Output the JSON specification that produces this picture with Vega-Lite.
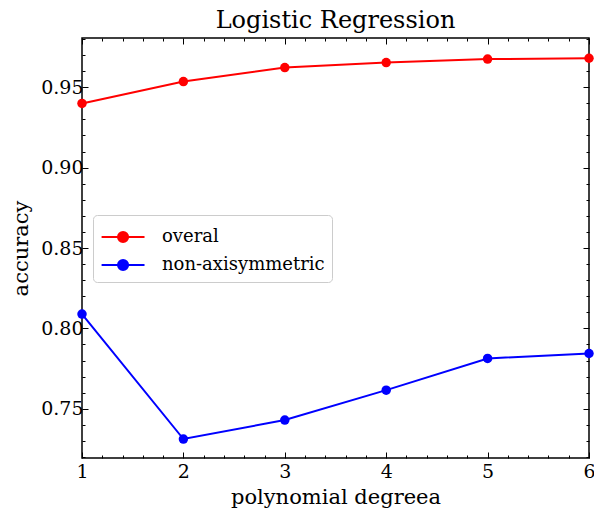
{
  "$schema": "https://vega.github.io/schema/vega-lite/v6.json",
  "width": 507,
  "height": 420,
  "autosize": {"type": "none"},
  "padding": {"left": 82, "top": 38, "right": 5, "bottom": 54},
  "background": "white",
  "title": {"text": "Logistic Regression", "font": "DejaVu Serif", "fontSize": 24, "fontWeight": "normal", "color": "black", "offset": -3},
  "config": {
    "view": {"stroke": "black", "strokeWidth": 1.5},
    "font": "DejaVu Serif"
  },
  "data": {
    "values": [
      {"degree": 1, "accuracy": 0.9399, "series": "overal"},
      {"degree": 2, "accuracy": 0.9535, "series": "overal"},
      {"degree": 3, "accuracy": 0.9622, "series": "overal"},
      {"degree": 4, "accuracy": 0.9653, "series": "overal"},
      {"degree": 5, "accuracy": 0.9675, "series": "overal"},
      {"degree": 6, "accuracy": 0.9680, "series": "overal"},
      {"degree": 1, "accuracy": 0.8089, "series": "non-axisymmetric"},
      {"degree": 2, "accuracy": 0.7312, "series": "non-axisymmetric"},
      {"degree": 3, "accuracy": 0.7430, "series": "non-axisymmetric"},
      {"degree": 4, "accuracy": 0.7616, "series": "non-axisymmetric"},
      {"degree": 5, "accuracy": 0.7813, "series": "non-axisymmetric"},
      {"degree": 6, "accuracy": 0.7844, "series": "non-axisymmetric"}
    ]
  },
  "layer": [
    {
      "mark": {"type": "line", "strokeWidth": 2, "point": {"size": 90, "filled": true, "opacity": 1}},
      "encoding": {
        "x": {
          "field": "degree", "type": "quantitative",
          "scale": {"domain": [1, 6], "nice": false, "zero": false},
          "axis": {
            "title": "polynomial degreea", "titleFont": "DejaVu Serif", "titleFontSize": 21, "titleFontWeight": "normal", "titleColor": "black", "titlePadding": 2,
            "values": [1,1.2,1.4,1.6,1.8,2,2.2,2.4,2.6,2.8,3,3.2,3.4,3.6,3.8,4,4.2,4.4,4.6,4.8,5,5.2,5.4,5.6,5.8,6],
            "labelExpr": "abs(datum.value - round(datum.value)) < 1e-6 ? format(datum.value, 'd') : ''",
            "labelFont": "DejaVu Serif", "labelFontSize": 19, "labelColor": "black", "labelPadding": 10, "labelFlush": false,
            "tickSize": {"condition": {"test": "abs(datum.value - round(datum.value)) < 1e-6", "value": -6}, "value": -3},
            "tickColor": "black", "tickWidth": 1, "domain": false, "grid": false, "labelOverlap": false
          }
        },
        "y": {
          "field": "accuracy", "type": "quantitative",
          "scale": {"domain": [0.7194, 0.9806], "nice": false, "zero": false},
          "axis": {
            "title": "accuracy", "titleFont": "DejaVu Serif", "titleFontSize": 21, "titleFontWeight": "normal", "titleColor": "black", "titlePadding": 9,
            "values": [0.72,0.73,0.74,0.75,0.76,0.77,0.78,0.79,0.8,0.81,0.82,0.83,0.84,0.85,0.86,0.87,0.88,0.89,0.9,0.91,0.92,0.93,0.94,0.95,0.96,0.97,0.98],
            "labelExpr": "abs(datum.value*20 - round(datum.value*20)) < 1e-6 ? format(datum.value, '.2f') : ''",
            "labelFont": "DejaVu Serif", "labelFontSize": 19, "labelColor": "black", "labelPadding": 5, "labelFlush": false,
            "tickSize": {"condition": {"test": "abs(datum.value*20 - round(datum.value*20)) < 1e-6", "value": -6}, "value": -3},
            "tickColor": "black", "tickWidth": 1, "domain": false, "grid": false, "labelOverlap": false
          }
        },
        "color": {
          "field": "series", "type": "nominal",
          "scale": {"domain": ["overal", "non-axisymmetric"], "range": ["#ff0000", "#0000ff"]},
          "legend": {
            "title": null, "orient": "none", "legendX": 11, "legendY": 177,
            "symbolType": "M-1,0H2.2M0.23,0A0.37,0.37 0 1,1 0.97,0A0.37,0.37 0 1,1 0.23,0",
            "symbolSize": 720, "symbolStrokeWidth": 2.2, "symbolOpacity": 1,
            "labelFont": "DejaVu Serif", "labelFontSize": 18, "labelColor": "black", "labelLimit": 400,
            "rowPadding": 3, "padding": 7, "strokeColor": "#cccccc", "fillColor": "white", "cornerRadius": 4,
            "labelOffset": 32
          }
        }
      }
    },
    {
      "mark": {"type": "point", "opacity": 0},
      "encoding": {
        "x": {
          "field": "degree", "type": "quantitative",
          "scale": {"domain": [1, 6], "nice": false, "zero": false},
          "axis": {
            "orient": "top", "title": null, "labels": false,
            "values": [1,1.2,1.4,1.6,1.8,2,2.2,2.4,2.6,2.8,3,3.2,3.4,3.6,3.8,4,4.2,4.4,4.6,4.8,5,5.2,5.4,5.6,5.8,6],
            "tickSize": {"condition": {"test": "abs(datum.value - round(datum.value)) < 1e-6", "value": -6}, "value": -3},
            "tickColor": "black", "tickWidth": 1, "domain": false, "grid": false
          }
        },
        "y": {
          "field": "accuracy", "type": "quantitative",
          "scale": {"domain": [0.7194, 0.9806], "nice": false, "zero": false},
          "axis": {
            "orient": "right", "title": null, "labels": false,
            "values": [0.72,0.73,0.74,0.75,0.76,0.77,0.78,0.79,0.8,0.81,0.82,0.83,0.84,0.85,0.86,0.87,0.88,0.89,0.9,0.91,0.92,0.93,0.94,0.95,0.96,0.97,0.98],
            "tickSize": {"condition": {"test": "abs(datum.value*20 - round(datum.value*20)) < 1e-6", "value": -6}, "value": -3},
            "tickColor": "black", "tickWidth": 1, "domain": false, "grid": false
          }
        }
      }
    }
  ],
  "resolve": {"axis": {"x": "independent", "y": "independent"}}
}
